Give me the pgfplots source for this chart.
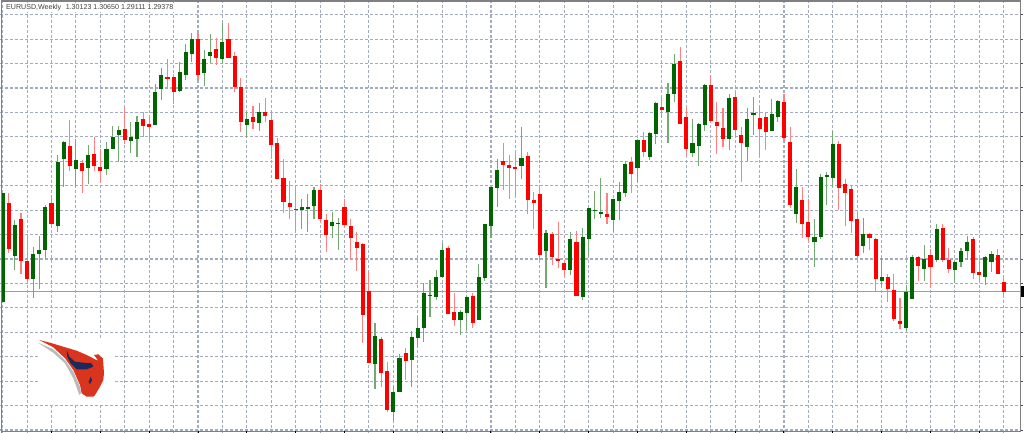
\documentclass[border=0pt]{standalone}
\usepackage{fontspec}
\setmainfont{Liberation Sans}
\usepackage{pgfplots}
\usepackage{pgfplotstable}
\pgfplotsset{compat=1.18}
\definecolor{bull}{RGB}{0,100,0}
\definecolor{bear}{RGB}{255,0,0}
\definecolor{gridc}{RGB}{163,172,188}
\definecolor{pricec}{RGB}{150,160,178}
\definecolor{framec}{RGB}{128,128,128}
\definecolor{logored}{RGB}{216,52,30}
\definecolor{logonavy}{RGB}{26,42,90}

% candle columns: bar number, body top, body bottom, wick top, wick bottom (y from the top)
\pgfplotstableread{
i top bot hi lo
0 193 302.3 193 302.3
2 225 255.7 220 270.3
5 254 278.7 247 298
6 250 254.3 236.3 289
7 206.7 249.7 205 259
9 162.3 225.7 155 232.3
10 142.3 159.3 141 187.3
12 160 169.3 139.3 186.7
14 155 168.3 145 184
17 149.3 169.3 142.3 175
18 136.7 149 126 149.3
19 130 135 126 161.7
21 136.7 141 121.7 152.7
22 121.7 139.3 116 156.7
25 92 125 84.3 125
26 75.3 89.3 68.3 100
29 72.3 90.7 62.3 91.7
30 51.7 74.7 44 80
31 39 53.7 32.7 61.7
33 58.7 73 50 86
34 51.7 56.3 34 63.3
36 41.7 58.7 22.7 63.3
40 119 125 111.7 136.7
42 112 122.7 102.7 130.7
49 206.7 210 199.3 229.3
50 207.3 208.7 194 231.7
51 190 205.7 186.7 219
54 222.3 226.3 212 237.7
55 222.7 224 218 250
61 336.3 363.7 323 388.7
64 392 412.3 386.3 421
65 358.3 391.7 354.3 391.7
67 337 359.7 330.7 387
68 328 338.3 317 347.3
69 293.3 327.7 283 342.3
70 294.7 295.7 279.7 317
71 277.3 297.3 270.3 299.7
72 250 276.7 243.3 278.3
75 312.3 320 310.3 334.7
76 296.7 313 295.7 330.3
78 277.3 320 263.7 320
79 224 278.3 224 280.7
80 187.3 225.7 187.3 237.7
81 170 188.3 159 206.7
85 158 165.7 127.3 179
89 233.3 250.7 230.3 288
93 239.3 270.3 232 274.7
95 237 297.3 228 299.7
96 208 239.3 208 254.7
97 209.7 211 191.3 219
98 212.3 214 178.3 217.7
100 199 220 199 232.3
101 192.3 200.7 181.7 220
102 164 193.3 161.3 197.3
104 140.3 168.3 139 181.7
106 133.3 157 132.3 160
107 103 134 102.3 144
109 94 112 83.3 143.3
110 63.7 93.7 54 102
113 143.3 153 119.3 157
114 123.7 146 122.7 166
115 84.7 125 84 130.7
119 98.3 139.3 94.3 150
122 119 146.7 108.3 160.7
123 112.7 114.7 96.7 135
126 113.7 130.7 99 130.7
127 101 116.7 100.5 122.3
130 187 214 169.3 223.3
133 237.3 242.3 219.3 266.7
134 177 237 174.3 238.7
135 174.7 177.3 172 205
136 144 178.3 130.7 186.7
141 234 246 218 253.3
144 277.3 280.7 258.3 286.7
148 291.7 327.7 285 330.7
149 256.7 298.7 255 298.7
151 259 269 245 280.7
153 229 260 224 262.3
156 262.3 270 260 283.3
157 251 262.3 247.7 267.3
158 241.7 251.3 236.3 260
161 256.7 276.7 256 285
162 254 262 250.7 271.7
}\bulltable

\pgfplotstableread{
i top bot hi lo
1 203.3 249 193 253
3 219 261.3 213 273.7
4 260.7 278.7 234.7 282.3
8 203.3 224 195 228
11 145.7 165.7 120 171
13 163.3 171 160 193.3
15 154 165.7 137.3 170.7
16 166.7 171 149 183.3
20 129.3 140 107.3 144
23 119.3 125.7 112.3 136.7
24 124 126.7 116 140.7
27 77.3 78.3 59.3 89.3
28 77.3 92 74 104
32 39 75.3 33 80
35 49.3 57.7 37.7 65
37 39 57.7 22.7 57.7
38 55.7 87.3 51.7 91.7
39 87 121.7 78.3 131.7
41 116.7 121.7 106 129.3
43 112 115.7 98 121.7
44 119.7 145.3 111.7 159.3
45 143.3 179 137.7 179
46 178.3 201.7 158.7 212.7
47 203.3 207.3 181 219.3
48 209 209.9 187.7 231
52 190.3 219.3 184 223.3
53 220.3 234.7 214 251.7
56 207.3 224.7 198.7 228
57 225.7 237.7 219.3 260
58 241.7 248.3 232.3 270.7
59 244 314.7 243.3 343
60 291.3 363 272 363
62 338.7 372.7 337.3 387
63 371.3 410.3 362.3 412
66 353 361 348 380.3
73 248.3 314 246.3 314
74 311.7 320 292.7 325.7
77 296.3 323 293 328
82 161.3 165.3 142.7 190
83 164.7 168.3 155 199
84 167.3 169 151.7 195.7
86 155.7 200 151.7 214
87 200.3 202.7 192.3 229.3
88 193.7 255.3 187.3 259.7
90 233.7 256.7 232.3 264.7
91 258.7 261.3 222.3 268
92 263 270.3 259.7 277.3
94 242 295.7 231.3 295.7
99 214 217.3 192.7 224
103 162.3 174.3 157 192.7
105 139.7 152.3 132 156.7
108 106.7 110.3 98.3 118.3
111 61 124.3 47.3 124.3
112 117.3 148.7 108.3 154.7
116 85.3 120.7 76 123.3
117 122 126 101.7 154
118 128.3 139.3 108.3 146.7
120 96.7 130 91.7 136.7
121 135 143.3 127.3 182
124 118.3 128.7 106.7 156
125 117.3 131.7 112.7 150
128 102.3 137.7 94 141
129 142 205 127.3 207.7
131 200.3 224 186.7 237.7
132 222 237 199.3 240.7
137 144 188.3 141.3 210
138 184.3 193.3 179.3 225.7
139 189 220.7 185 233.3
140 219.3 255.7 213.3 258.3
142 234 237.7 232.7 250
143 239.3 279 238.3 290.7
145 276.7 289.3 274 301.7
146 290.3 319 274 321
147 321 324 298 329
150 257 265.7 256 281.3
152 254.7 266.7 249.3 287.3
154 228 260 224 261.7
155 260 269.3 247.7 272.7
159 239.3 273.3 237.3 279.3
160 271.7 275.3 257.7 280.7
163 254.7 274.3 249.3 274.3
164 282.3 292 276 295.7
}\beartable

\pgfplotsset{
  wick/.style={draw=none,mark=none,error bars/.cd,y dir=both,y explicit,error mark=none,
    error bar style={draw=#1,line width=1.1bp}},
  body/.style={draw=none,mark=none,error bars/.cd,y dir=both,y explicit,error mark=none,
    error bar style={draw=#1,line width=4.1bp}},
  /pgfplots/table/mid/.style args={#1/#2}{
    /pgfplots/table/x expr=2.7+6.104*\thisrow{i},
    /pgfplots/table/y expr=(\thisrow{#1}+\thisrow{#2})/2,
    /pgfplots/table/y error expr=(\thisrow{#2}-\thisrow{#1})/2},
}

\begin{document}
\begin{tikzpicture}
\path[use as bounding box] (0,0) rectangle (1024bp,433bp);
\begin{axis}[
  at={(0,0)},anchor=south west,
  scale only axis,width=1024bp,height=433bp,
  xmin=0,xmax=1024,ymin=0,ymax=433,y dir=reverse,
  axis line style={draw=none},
  major tick length=0pt,
  xticklabels={},yticklabels={},
  xtick={2.7,27.116,...,1005},
  ytick={14.7,39.13,...,431},
  grid=major,
  grid style={gridc,line width=1.1bp,dash pattern=on 2.6bp off 2.4bp},
]
% white strip right of the frame, box behind the logo
\addplot[fill=white,draw=none] coordinates {(1021,0)(1024,0)(1024,433)(1021,433)} --cycle;
\addplot[fill=white,draw=none] coordinates {(38,338)(113,338)(113,404)(38,404)} --cycle;

% bid line
\addplot[pricec,line width=1.1bp] coordinates {(0,291.7)(1021,291.7)};

\addplot[wick=bull!55!white] table[mid=hi/lo] {\bulltable};
\addplot[wick=bear!50!white] table[mid=hi/lo] {\beartable};
\addplot[body=bull] table[mid=top/bot] {\bulltable};
\addplot[body=bear] table[mid=top/bot] {\beartable};

% logo
\addplot[fill=black!27,draw=none] coordinates {(38.3,342.7)(53.3,352.7)(65,363.3)(73.3,378.3)(79.3,395)(81,393)(80,386.7)(73.3,371.7)(65,360)(53.3,349.3)} --cycle;
\addplot[fill=logored,draw=none] coordinates {(39.3,340)(50,342.7)(63.3,346.7)(76.7,350.7)(86.7,355)(95,359.3)(98.3,360.7)(94,355)(98.3,354.3)(102.7,358.3)(103.3,363.3)(104,373.3)(103.3,380)(100,386.7)(95,395)(93.3,396.7)(86.7,396.7)(81.7,393.3)(80,385)(73.3,370)(65,358.3)(53.3,347.3)} --cycle;
\addplot[fill=logonavy,draw=none] coordinates {(66.7,350)(69.3,356.7)(75,361.7)(83.3,362.7)(91.7,363.3)(93.3,366.7)(86.7,369.3)(76.7,369.3)(70.7,363.3)(67.3,356.7)} --cycle;
\addplot[fill=logonavy,draw=none] coordinates {(90.7,376.7)(92,380)(90,384.3)(88.7,381.7)} --cycle;

% chart frame
\addplot[framec,line width=1.5bp] coordinates {(1.5,433)(1.5,1)(1020.7,1)(1020.7,431.7)(1.5,431.7)};

% small scale ticks on the bottom and right edges
\addplot[draw=none,mark=none,error bars/.cd,y dir=both,y fixed=1,error mark=none,error bar style={draw=black,line width=1bp}]
  coordinates {(51.5,432)(100.3,432)(149.1,432)(198,432)(246.8,432)(295.6,432)(344.4,432)(393.3,432)(442.1,432)(490.9,432)(539.7,432)(588.6,432)(637.4,432)(686.2,432)(735,432)(783.9,432)(832.7,432)(881.5,432)(930.3,432)(979.2,432)};
\addplot[draw=none,mark=none,error bars/.cd,x dir=both,x fixed=1.2,error mark=none,error bar style={draw=black!70,line width=1bp}]
  coordinates {(1022,14.7)(1022,39.1)(1022,63.6)(1022,88)(1022,112.4)(1022,136.9)(1022,161.3)(1022,185.7)(1022,210.1)(1022,234.6)(1022,259)(1022,283.4)(1022,307.9)(1022,332.3)(1022,356.7)(1022,381.2)(1022,405.6)(1022,430)};
% current price tab
\addplot[fill=black,draw=none] coordinates {(1021,286)(1024,286)(1024,297)(1021,297)} --cycle;

\node[anchor=west,fill=white,inner sep=1bp,text=black!75,font=\fontsize{7.1bp}{9bp}\selectfont] at (axis cs:5,7.5)
  {EURUSD,Weekly\hspace{4.5bp}1.30123 1.30650 1.29111 1.29378};
\end{axis}
\end{tikzpicture}
\end{document}
